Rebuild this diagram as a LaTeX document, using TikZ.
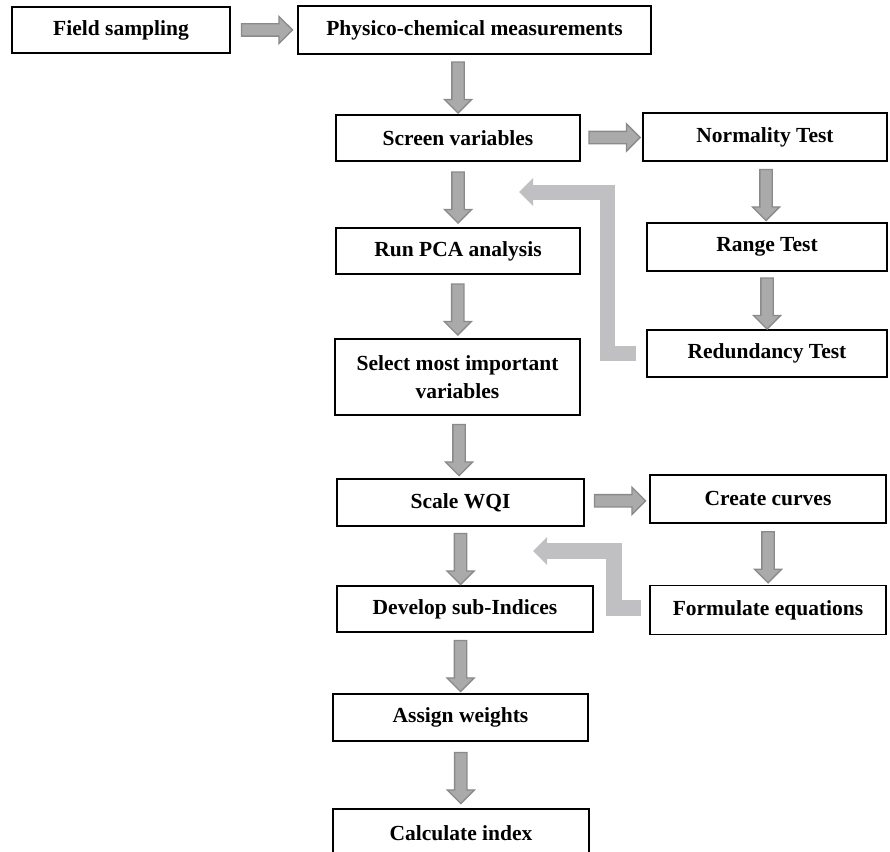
\documentclass[tikz,border=0pt]{standalone}
\usepackage{fontspec}
\setmainfont{Liberation Serif}
\usetikzlibrary{calc,arrows.meta,shapes.arrows}
\definecolor{arrfill}{RGB}{170,170,170}
\definecolor{arrline}{RGB}{138,138,138}
\definecolor{fbgray}{RGB}{192,192,194}

\begin{document}
\begin{tikzpicture}[x=1pt,y=-1pt,
  box/.style={draw,line width=1.1pt,inner sep=0pt,align=center,
    font=\fontsize{21.5}{28}\selectfont\bfseries},
  blk/.style={single arrow,fill=arrfill,draw=arrline,line width=1.3pt,
    inner sep=5.5pt,single arrow head extend=7.5pt,
    single arrow tip angle=90,minimum height=51pt},
  darr/.style={blk,shape border rotate=270},
  rarr/.style={blk},
  loopback/.style={draw=fbgray,line width=15pt,-{Triangle[width=27pt,length=14pt]}}]
  \useasboundingbox (0,0) rectangle (890,851);

  % Left column and top row
  \node[box,minimum width=218pt,minimum height=46pt] (field) at (121,30) {Field sampling};
  \node[box,minimum width=353pt,minimum height=48pt] (phys) at (474.5,30) {Physico-chemical measurements};
  \node[box,minimum width=244pt,minimum height=46pt] (screen) at (458,138) {Screen variables};
  \node[box,minimum width=244pt,minimum height=46pt] (pca) at (458,251) {Run PCA analysis};
  \node[box,minimum width=245pt,minimum height=76pt] (select) at (457.5,377) {Select most important\\variables};
  \node[box,minimum width=247pt,minimum height=47pt] (wqi) at (460.5,502.5) {Scale WQI};
  \node[box,minimum width=256pt,minimum height=46pt] (develop) at (465,609) {Develop sub-Indices};
  \node[box,minimum width=255pt,minimum height=47pt] (assign) at (460.5,717.5) {Assign weights};
  \node[box,minimum width=256pt,minimum height=48pt] (calcidx) at (461,833) {Calculate index};

  % Right column
  \node[box,minimum width=244pt,minimum height=48pt] (norm) at (765,137) {Normality Test};
  \node[box,minimum width=240pt,minimum height=48pt] (rng) at (767,247) {Range Test};
  \node[box,minimum width=240pt,minimum height=47pt] (red) at (767,353.5) {Redundancy Test};
  \node[box,minimum width=236pt,minimum height=48pt] (curves) at (768,499) {Create curves};
  \node[box,minimum width=236pt,minimum height=49pt] (formeq) at (768,610) {Formulate equations};

  % Block arrows
  \node[rarr] at ($(field.east)!0.5!(phys.west)$) {};
  \node[darr] at ($(phys.south -| screen.north)!0.5!(screen.north)$) {};
  \node[rarr] at ($(screen.east)!0.5!(norm.west)$) {};
  \node[darr] at ($(screen.south)!0.5!(pca.north)$) {};
  \node[darr] at ($(norm.south)!0.5!(rng.north)$) {};
  \node[darr] at ($(rng.south)!0.5!(red.north)$) {};
  \node[darr] at ($(pca.south)!0.5!(select.north)$) {};
  \node[darr] at ($(select.south)!0.5!(wqi.north)$) {};
  \node[rarr] at ($(wqi.east)!0.5!(curves.west)$) {};
  \node[darr] at ($(curves.south)!0.5!(formeq.north)$) {};
  \node[darr] at ($(wqi.south)!0.5!(develop.north -| wqi.south)$) {};
  \node[darr] at ($(develop.south -| assign.south)!0.5!(assign.north)$) {};
  \node[darr] at ($(assign.south)!0.5!(calcidx.north)$) {};

  % Feedback arrows
  \coordinate (fb1) at (607,192);
  \coordinate (fb2) at (614,551);
  \draw[loopback] ($(red.west)+(-10,0)$) -| (fb1) -- ++(-88,0);
  \draw[loopback,line width=16pt] ($(formeq.west)+(-8,-2)$) -| (fb2) -- ++(-81,0);
\end{tikzpicture}
\end{document}
